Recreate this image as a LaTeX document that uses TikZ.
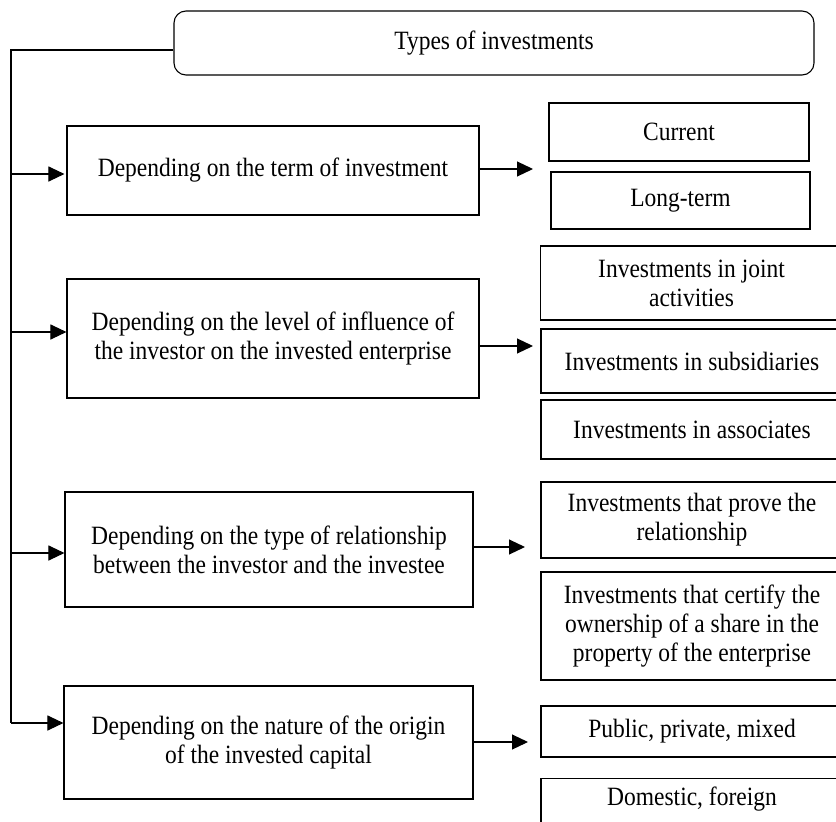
\documentclass[tikz,border=0pt]{standalone}
\usepackage{fontspec}
\setmainfont{Liberation Serif}[FakeStretch=0.89]
\usetikzlibrary{arrows.meta,positioning}

\begin{document}
\begin{tikzpicture}[x=1bp, y=-1bp,
    box/.style={draw, line width=1.1pt, align=center, inner sep=0pt, font=\fontsize{26.5}{29}\selectfont},
    sub/.style={box, minimum width=302bp},
    arr/.style={-{Triangle[length=16bp, width=15bp]}, line width=1.1pt},
    trunkline/.style={line width=1.1pt}]
    \useasboundingbox (0,0) rectangle (836,822);
    \node[box, rounded corners=12bp, minimum width=640bp, minimum height=64bp] (types) at (494,43) {Types of investments};
    \node[box, minimum width=412bp, minimum height=89bp] (term) at (273,170.5) {Depending on the term of investment};
    \node[box, minimum width=412bp, minimum height=119bp] (influence) at (273,338.5) {Depending on the level of influence of\\the investor on the invested enterprise};
    \node[box, minimum width=408bp, minimum height=115bp] (relation) at (269,549.5) {Depending on the type of relationship\\between the investor and the investee};
    \node[box, minimum width=409bp, minimum height=113bp] (origin) at (268.5,742.5) {Depending on the nature of the origin\\of the invested capital};
    \node[box, minimum width=260bp, minimum height=58bp] (current) at (679,132) {Current};
    \node[box, minimum width=259bp, minimum height=57bp] (longterm) at (680.5,200.5) {Long-term};
    \node[sub, minimum height=74bp] (joint) at (691.5,283) {Investments in joint\\activities};
    \node[sub, minimum height=64bp] (subsid) at (692,361) {Investments in subsidiaries};
    \node[sub, minimum height=59bp] (assoc) at (692,429.5) {Investments in associates};
    \node[sub, minimum height=76bp] (prove) at (692,520) {Investments that prove the\\relationship};
    \node[sub, minimum height=108bp] (certify) at (692,626) {Investments that certify the\\ownership of a share in the\\property of the enterprise};
    \node[sub, minimum height=51bp] (public) at (692,731.5) {Public, private, mixed};
    \node[sub, anchor=north, inner ysep=8bp, text depth=60bp] (domestic) at (692,778) {Domestic, foreign};
    \coordinate (trunk) at (11,50);
    \coordinate (in1) at (11,174);
    \coordinate (in2) at (11,332);
    \coordinate (in3) at (11,553);
    \coordinate (in4) at (11,723);
    \coordinate (out1) at (533,169);
    \coordinate (out2) at (533,346);
    \coordinate (out3) at (525,547);
    \coordinate (out4) at (528,742);
    \draw[trunkline] (types.west |- trunk) -- (trunk) -- (in4);
    \draw[arr, shorten >=2bp] (in1) -- (in1 -| term.west);
    \draw[arr] (in2) -- (in2 -| influence.west);
    \draw[arr] (in3) -- (in3 -| relation.west);
    \draw[arr] (in4) -- (in4 -| origin.west);
    \draw[arr] (out1 -| term.east) -- (out1);
    \draw[arr] (out2 -| influence.east) -- (out2);
    \draw[arr] (out3 -| relation.east) -- (out3);
    \draw[arr] (out4 -| origin.east) -- (out4);
\end{tikzpicture}
\end{document}
